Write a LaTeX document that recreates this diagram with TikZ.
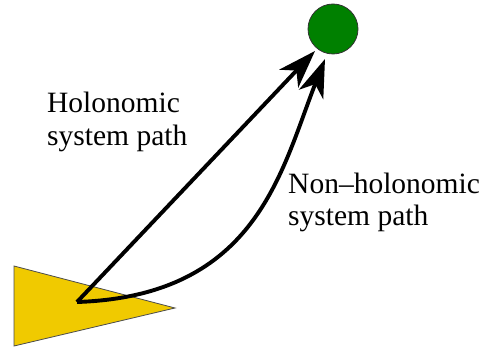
\documentclass[tikz,border=0pt]{standalone}
\usepackage{fontspec}
\setmainfont{Liberation Serif}
\usetikzlibrary{arrows.meta}
\definecolor{robotyellow}{RGB}{240,202,0}
\definecolor{goalgreen}{RGB}{0,128,0}
\begin{document}
\begin{tikzpicture}[x=1pt,y=-1pt,
  pathline/.style={line width=3.9pt,-{Stealth[length=38pt,width=26pt,inset=11pt]}},
  lbl/.style={anchor=base west,inner sep=0pt,font=\fontsize{29.5}{32}\selectfont,align=left}]
\useasboundingbox (0,0) rectangle (492,350);
\filldraw[fill=robotyellow,draw=black!70,line width=0.8pt] (14,266) -- (175,308) -- (14,346) -- cycle;
\node[circle,fill=goalgreen,draw=black!80,line width=0.8pt,minimum size=50pt,inner sep=0pt] (goal) at (333,29) {};
\coordinate (start) at (77,302);
\coordinate (tipA) at (315,51);
\coordinate (tipB) at (325,59);
\draw[pathline] (start) -- (tipA);
\draw[pathline] (start) .. controls (257,296) and (281,171) .. (tipB);
\node[lbl] (hol) at (47,113) {Holonomic};
\node[lbl] (hol2) at (47,145) {system path};
\node[lbl] (non) at (288,193) {Non--holonomic};
\node[lbl] (non2) at (288,225) {system path};
\end{tikzpicture}
\end{document}
